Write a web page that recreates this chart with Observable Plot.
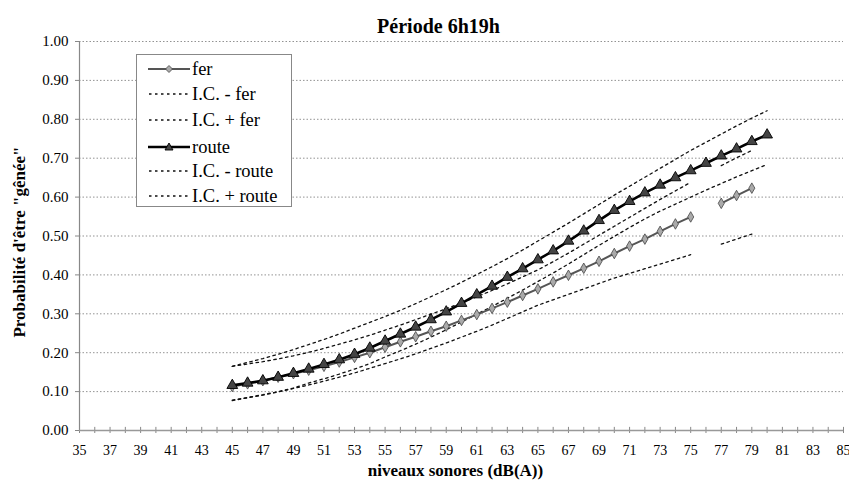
<!DOCTYPE html>
<html><head><meta charset="utf-8">
<script src="https://cdn.jsdelivr.net/npm/d3@7"></script>
<script src="https://cdn.jsdelivr.net/npm/@observablehq/plot@0.6"></script>
<style>
body{margin:0;background:#fff;}
#wrap{position:relative;width:849px;height:484px;font-family:"Liberation Serif","Tinos","Times New Roman","Nimbus Roman","DejaVu Serif",serif;}
#wrap svg text{font-family:"Liberation Serif","Tinos","Times New Roman","Nimbus Roman","DejaVu Serif",serif;}
#legend{position:absolute;left:136px;top:54px;width:156px;height:153px;border:1px solid #888;background:#fff;box-sizing:border-box;}
.row{position:absolute;left:11px;height:22px;display:flex;align-items:center;font-size:18.5px;color:#000;white-space:nowrap;}
.row svg{margin-right:2px;}
</style>
</head><body>
<div id="wrap"></div>
<script>
// --- data ---
const title = "Période 6h19h";
const yTitle = "Probabilité d'être \"gênée\"";
const xTitle = "niveaux sonores (dB(A))";
const levels = [45,46,47,48,49,50,51,52,53,54,55,56,57,58,59,60,61,62,63,64,65,66,67,68,69,70,71,72,73,74,75,76,77,78,79,80];
const fer      = [0.113,0.120,0.128,0.137,0.146,0.155,0.165,0.176,0.188,0.200,0.214,0.228,0.241,0.255,0.268,0.283,0.298,0.314,0.330,0.347,0.364,0.382,0.399,0.417,0.435,0.455,0.474,0.492,0.512,0.531,0.549,null,0.584,0.604,0.623,null];
const ferLow   = [0.077,0.084,0.091,0.099,0.108,0.117,0.127,0.137,0.148,0.160,0.172,0.184,0.197,0.211,0.225,0.240,0.255,0.271,0.288,0.305,0.322,0.336,0.350,0.364,0.378,0.392,0.404,0.416,0.428,0.440,0.452,null,0.479,0.492,0.505,null];
const ferHigh  = [0.165,0.171,0.177,0.184,0.192,0.201,0.211,0.222,0.233,0.245,0.258,0.271,0.285,0.299,0.313,0.328,0.344,0.360,0.377,0.395,0.413,0.434,0.456,0.479,0.502,0.525,0.548,0.571,0.594,0.616,0.638,null,0.681,0.701,0.720,null];
const route    = [0.116,0.122,0.128,0.137,0.147,0.158,0.170,0.182,0.196,0.212,0.230,0.248,0.266,0.285,0.305,0.327,0.349,0.371,0.394,0.416,0.439,0.462,0.487,0.513,0.540,0.566,0.589,0.611,0.631,0.650,0.668,0.687,0.706,0.724,0.743,0.760];
const routeLow = [0.078,0.085,0.092,0.100,0.109,0.122,0.133,0.145,0.158,0.172,0.189,0.205,0.222,0.240,0.259,0.279,0.299,0.319,0.340,0.361,0.383,0.405,0.428,0.452,0.476,0.499,0.522,0.544,0.564,0.582,0.600,0.618,0.635,0.652,0.668,0.684];
const routeHigh= [0.165,0.175,0.185,0.196,0.208,0.221,0.234,0.248,0.263,0.278,0.293,0.309,0.326,0.344,0.362,0.381,0.401,0.421,0.442,0.464,0.487,0.510,0.533,0.557,0.581,0.605,0.628,0.651,0.674,0.697,0.720,0.741,0.762,0.783,0.803,0.822];
const yTicks = [0,0.1,0.2,0.3,0.4,0.5,0.6,0.7,0.8,0.9,1.0];
const xTicks = [35,36,37,38,39,40,41,42,43,44,45,46,47,48,49,50,51,52,53,54,55,56,57,58,59,60,61,62,63,64,65,66,67,68,69,70,71,72,73,74,75,76,77,78,79,80,81,82,83,84,85];
const legendItems = [
  {key:"fer", label:"fer"},
  {key:"ferLow", label:"I.C. - fer"},
  {key:"ferHigh", label:"I.C. + fer"},
  {key:"route", label:"route"},
  {key:"routeLow", label:"I.C. - route"},
  {key:"routeHigh", label:"I.C. + route"}
];

const rows = levels.map((L,i)=>({L, fer:fer[i], ferLow:ferLow[i], ferHigh:ferHigh[i], route:route[i], routeLow:routeLow[i], routeHigh:routeHigh[i]}));
const dotted = {stroke:"#111", strokeWidth:1.3, strokeDasharray:"2.5,3.5"};
const serif = "'Liberation Serif', Tinos, 'Times New Roman', 'DejaVu Serif', serif";

const chart = Plot.plot({
  width:849, height:484,
  marginTop:41, marginBottom:54, marginLeft:79, marginRight:6,
  style:{fontFamily:serif, fontSize:"15px", background:"#fff", color:"#000", overflow:"visible"},
  x:{domain:[35,85], label:null},
  y:{domain:[0,1], label:null},
  marks:[
    Plot.ruleY(yTicks.slice(1), {stroke:"#777", strokeWidth:0.8, strokeDasharray:"1.5,2"}),
    Plot.axisY({ticks:yTicks, tickFormat:d=>d.toFixed(2), tickSize:4, tickPadding:7, label:null, fontSize:15, stroke:"#888"}),
    Plot.axisX({ticks:xTicks, tickFormat:d=>((d-35)%2===0? String(d):""), tickSize:3, tickPadding:12, label:null, fontSize:14, stroke:"#888"}),
    Plot.ruleX(xTicks, {y1:0, y2:0.008, stroke:"#888"}),
    Plot.ruleX([35], {stroke:"#888", strokeWidth:1.2}),
    Plot.ruleY([0], {stroke:"#999", strokeWidth:1.6}),
    Plot.line(rows, {x:"L", y:"ferLow", ...dotted}),
    Plot.line(rows, {x:"L", y:"ferHigh", ...dotted}),
    Plot.line(rows, {x:"L", y:"routeLow", ...dotted}),
    Plot.line(rows, {x:"L", y:"routeHigh", ...dotted}),
    Plot.line(rows, {x:"L", y:"fer", stroke:"#555", strokeWidth:2}),
    Plot.dot(rows.filter(d=>d.fer!=null), {x:"L", y:"fer", symbol:"diamond", r:3.2, fill:"#aaa", stroke:"#444", strokeWidth:0.8}),
    Plot.line(rows, {x:"L", y:"route", stroke:"#000", strokeWidth:2.6}),
    Plot.dot(rows, {x:"L", y:"route", symbol:"triangle", r:4, fill:"#444", stroke:"#000", strokeWidth:0.9}),
    Plot.text([title], {frameAnchor:"top", dx:-23, dy:-23, fontWeight:"bold", fontSize:20}),
    Plot.text([xTitle], {frameAnchor:"bottom", dx:-6, dy:45, fontWeight:"bold", fontSize:17}),
    Plot.text([yTitle], {frameAnchor:"left", textAnchor:"middle", dx:-60, dy:6, rotate:-90, fontWeight:"bold", fontSize:17})
  ]
});
const wrap = document.getElementById("wrap");
wrap.appendChild(chart);

// legend overlay
const leg = document.createElement("div");
leg.id = "legend";
const rowTops = [3,28,54,81,105,130];
legendItems.forEach((it,i)=>{
  const r = document.createElement("div");
  r.className = "row";
  r.style.top = rowTops[i] + "px";
  let sample;
  if (it.key === "fer") {
    sample = `<svg width="42" height="12"><line x1="0" y1="6" x2="42" y2="6" stroke="#555" stroke-width="2"/><path d="M21,2.5 L24.5,6 L21,9.5 L17.5,6Z" fill="#aaa" stroke="#444" stroke-width="0.8"/></svg>`;
  } else if (it.key === "route") {
    sample = `<svg width="42" height="12"><line x1="0" y1="6" x2="42" y2="6" stroke="#000" stroke-width="2.6"/><path d="M21,2 L25,9 L17,9Z" fill="#444" stroke="#000" stroke-width="0.9"/></svg>`;
  } else {
    sample = `<svg width="42" height="12"><line x1="1" y1="6" x2="42" y2="6" stroke="#111" stroke-width="1.3" stroke-dasharray="2.5,3.5"/></svg>`;
  }
  r.innerHTML = sample + `<span>${it.label}</span>`;
  leg.appendChild(r);
});
wrap.appendChild(leg);
</script>
</body></html>
